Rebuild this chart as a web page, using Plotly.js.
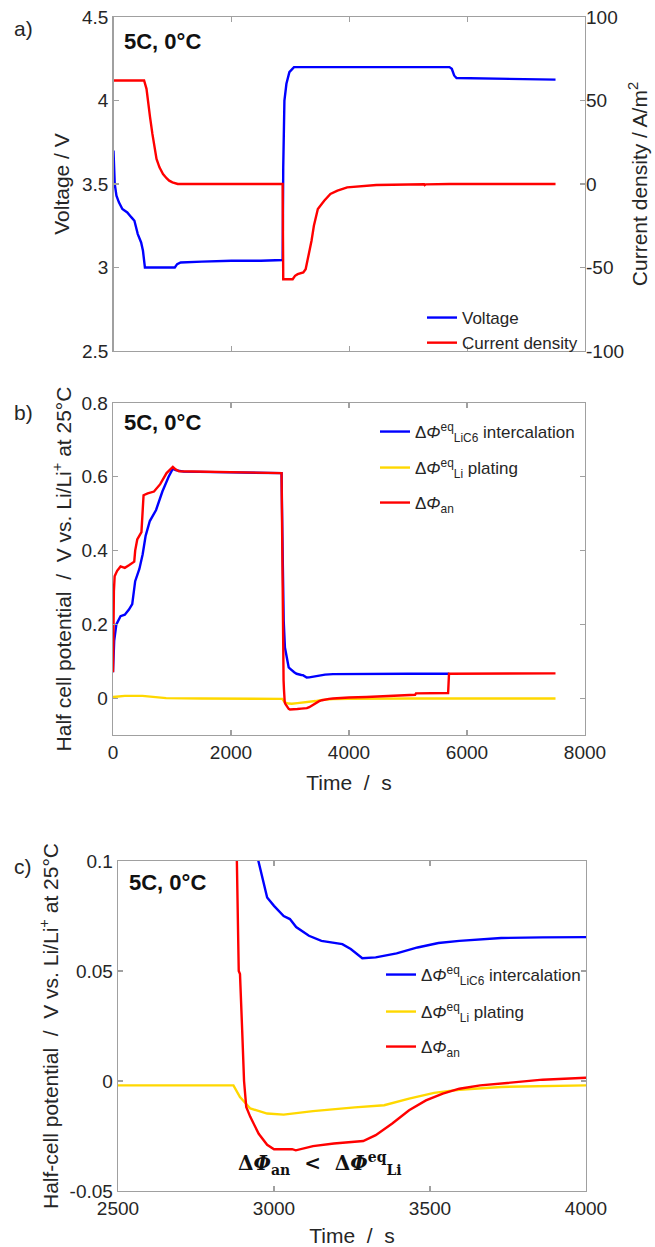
<!DOCTYPE html>
<html>
<head>
<meta charset="utf-8">
<script src="https://cdn.plot.ly/plotly-3.0.1.min.js"></script>
<style>html,body{margin:0;padding:0;background:#fff;}#chart{width:655px;height:1247px;}</style>
</head>
<body>
<div id="chart"></div>
<script>
// ---------- Panel a: voltage and current density vs time ----------
const tVolt = [0, 8, 21, 50, 92, 150, 234, 305, 355, 412, 469, 500, 533, 800, 1040, 1080, 1140, 1500, 2000, 2500, 2870, 2880, 2900, 2934, 2984, 3062, 4000, 5000, 5700, 5740, 5780, 5820, 6500, 7500];
const voltage = [3.7, 3.6, 3.5, 3.43, 3.39, 3.35, 3.33, 3.3, 3.28, 3.2, 3.15, 3.1, 3.0, 3.0, 3.0, 3.02, 3.03, 3.035, 3.04, 3.04, 3.045, 3.6, 4.0, 4.1, 4.17, 4.2, 4.2, 4.2, 4.2, 4.19, 4.15, 4.135, 4.13, 4.125];
const tCur = [0, 519, 560, 590, 620, 660, 700, 730, 780, 840, 900, 945, 1000, 1090, 2000, 2870, 2880, 3040, 3080, 3125, 3220, 3260, 3290, 3330, 3360, 3400, 3467, 3575, 3680, 3800, 3965, 4460, 4820, 5270, 5280, 5300, 5700, 7500];
const currentDensity = [62, 62, 57, 50, 40, 30, 20, 15, 10, 6, 3.5, 2, 1, 0, 0, 0, -57, -57, -55, -54, -53, -51, -46, -40, -34, -25, -15, -10, -6, -4, -2, -0.6, -0.4, -0.2, -0.7, -0.2, 0, 0];

// ---------- Panels b and c: half-cell potentials vs time ----------
const tLiC6 = [0, 20, 57, 128, 200, 270, 326, 376, 447, 503, 553, 624, 730, 837, 943, 1014, 1060, 1200, 2000, 2857, 2870, 2893, 2914, 2950, 2978, 3000, 3031, 3051, 3071, 3112, 3152, 3192, 3219, 3246, 3283, 3326, 3393, 3460, 3527, 3594, 3728, 3861, 4000, 5000, 5700];
const phiLiC6 = [0.07, 0.155, 0.2, 0.222, 0.226, 0.24, 0.255, 0.317, 0.35, 0.39, 0.44, 0.48, 0.51, 0.56, 0.6, 0.622, 0.618, 0.614, 0.612, 0.61, 0.45, 0.21, 0.137, 0.1, 0.0834, 0.0796, 0.075, 0.0736, 0.07, 0.066, 0.0637, 0.0627, 0.0622, 0.06, 0.0558, 0.0562, 0.058, 0.0607, 0.0627, 0.0637, 0.065, 0.0653, 0.0657, 0.066, 0.066];
const tLi = [0, 100, 200, 500, 700, 900, 1500, 2500, 2870, 2891, 2924, 2978, 3031, 3125, 3259, 3353, 3433, 3513, 3594, 3728, 4000, 5000, 7500];
const phiLi = [0.003, 0.005, 0.006, 0.006, 0.003, 0.0, -0.001, -0.002, -0.002, -0.0073, -0.0125, -0.0148, -0.0153, -0.0137, -0.012, -0.011, -0.008, -0.0054, -0.004, -0.0027, -0.002, -0.001, -0.001];
const tAn = [0, 5, 15, 28, 70, 128, 200, 270, 326, 360, 376, 411, 482, 505, 518, 588, 695, 800, 908, 1014, 1060, 1120, 1617, 2857, 2870, 2881, 2887, 2891, 2898, 2904, 2911, 2924, 2951, 2978, 3000, 3058, 3070, 3125, 3192, 3259, 3286, 3326, 3379, 3433, 3487, 3541, 3594, 3661, 3728, 3861, 4000, 4300, 4600, 4650, 5120, 5135, 5680, 5695, 6500, 7500];
const phiAn = [0.07, 0.22, 0.29, 0.33, 0.345, 0.357, 0.353, 0.36, 0.365, 0.37, 0.4, 0.43, 0.45, 0.5, 0.55, 0.555, 0.56, 0.58, 0.61, 0.627, 0.62, 0.615, 0.613, 0.61, 0.4, 0.1, 0.05, 0.0486, 0.023, 0.0, -0.0118, -0.0163, -0.024, -0.029, -0.031, -0.031, -0.0315, -0.0296, -0.0284, -0.0277, -0.0273, -0.0246, -0.0193, -0.0133, -0.0088, -0.0057, -0.0035, -0.002, -0.0012, 0.0006, 0.0015, 0.003, 0.005, 0.007, 0.009, 0.013, 0.014, 0.066, 0.0665, 0.067];

// ---------- tick labels ----------
const timeTicksAB = [0, 2000, 4000, 6000, 8000];
const timeTickTextB = ['0', '2000', '4000', '6000', '8000'];
const voltTicks = [2.5, 3, 3.5, 4, 4.5];
const voltTickText = ['2.5', '3', '3.5', '4', '4.5'];
const curTicks = [-100, -50, 0, 50, 100];
const curTickText = ['-100', '-50', '0', '50', '100'];
const phiTicksB = [0, 0.2, 0.4, 0.6, 0.8];
const phiTickTextB = ['0', '0.2', '0.4', '0.6', '0.8'];
const timeTicksC = [2500, 3000, 3500, 4000];
const timeTickTextC = ['2500', '3000', '3500', '4000'];
const phiTicksC = [-0.05, 0, 0.05, 0.1];
const phiTickTextC = ['-0.05', '0', '0.05', '0.1'];

const BLUE = '#0000ff', RED = '#ff0000', YEL = '#ffd800';
const FONT = 'Liberation Sans, Arial, Helvetica, sans-serif';
const TXT = '#262626', AX = '#a0a0a0';
const W = 655, H = 1247;
const px = v => v / W, py = v => 1 - v / H;
const nb = '\u00a0';

const nameLiC6 = 'Δ<i>Φ</i><sup>eq</sup><sub>LiC6</sub> intercalation';
const nameLi = 'Δ<i>Φ</i><sup>eq</sup><sub>Li</sub> plating';
const nameAn = 'Δ<i>Φ</i><sub>an</sub>';

const lw = 2.4;
const traces = [
  {x: tVolt, y: voltage, xaxis: 'x', yaxis: 'y', mode: 'lines', name: 'Voltage', line: {color: BLUE, width: lw}, legend: 'legend'},
  {x: tCur, y: currentDensity, xaxis: 'x', yaxis: 'y2', mode: 'lines', name: 'Current density', line: {color: RED, width: lw}, legend: 'legend'},
  {x: tLiC6, y: phiLiC6, xaxis: 'x2', yaxis: 'y3', mode: 'lines', name: nameLiC6, line: {color: BLUE, width: lw}, legend: 'legend2'},
  {x: tLi, y: phiLi, xaxis: 'x2', yaxis: 'y3', mode: 'lines', name: nameLi, line: {color: YEL, width: lw}, legend: 'legend3'},
  {x: tAn, y: phiAn, xaxis: 'x2', yaxis: 'y3', mode: 'lines', name: nameAn, line: {color: RED, width: lw}, legend: 'legend4'},
  {x: tLiC6, y: phiLiC6, xaxis: 'x3', yaxis: 'y4', mode: 'lines', name: nameLiC6, line: {color: BLUE, width: lw}, legend: 'legend5'},
  {x: tLi, y: phiLi, xaxis: 'x3', yaxis: 'y4', mode: 'lines', name: nameLi, line: {color: YEL, width: lw}, legend: 'legend6'},
  {x: tAn, y: phiAn, xaxis: 'x3', yaxis: 'y4', mode: 'lines', name: nameAn, line: {color: RED, width: lw}, legend: 'legend7'}
];

const tickFont = {family: FONT, size: 19, color: TXT};
const titleFont = {family: FONT, size: 21, color: TXT};
function ax(extra) {
  return Object.assign({
    showline: true, linecolor: AX, linewidth: 1.3, mirror: 'ticks',
    ticks: 'inside', ticklen: 5, tickwidth: 1.2, tickcolor: AX,
    showgrid: false, zeroline: false, tickfont: tickFont, automargin: false,
    tickmode: 'array', fixedrange: true
  }, extra);
}
function leg(xLeft, yCenter) {
  return {x: px(xLeft), y: py(yCenter), xanchor: 'left', yanchor: 'middle', bgcolor: 'rgba(0,0,0,0)',
    font: {family: FONT, size: 17, color: TXT}, itemwidth: 30, tracegroupgap: 0};
}
function lab(t, x, y, size, extra) {
  return Object.assign({text: t, xref: 'paper', yref: 'paper', x: px(x), y: py(y), xanchor: 'left', yanchor: 'middle',
    showarrow: false, font: {family: FONT, size: size, color: TXT}}, extra || {});
}

const layout = {
  width: W, height: H,
  margin: {l: 0, r: 0, t: 0, b: 0},
  paper_bgcolor: '#fff', plot_bgcolor: '#fff',
  font: {family: FONT, color: TXT},
  showlegend: true,
  xaxis: ax({domain: [px(113.5), px(585)], anchor: 'y', range: [0, 8000], tickvals: timeTicksAB, showticklabels: false}),
  yaxis: ax({domain: [py(351), py(17)], anchor: 'x', range: [2.5, 4.5], tickvals: voltTicks, ticktext: voltTickText,
    title: {text: 'Voltage / V', font: titleFont, standoff: 6}}),
  yaxis2: ax({overlaying: 'y', side: 'right', anchor: 'x', range: [-100, 100], tickvals: curTicks, ticktext: curTickText,
    showline: false, mirror: false,
    title: {text: 'Current density / A/m<sup>2</sup>', font: titleFont, standoff: 9}}),
  xaxis2: ax({domain: [px(113), px(585)], anchor: 'y3', range: [0, 8000], tickvals: timeTicksAB, ticktext: timeTickTextB,
    title: {text: 'Time' + nb + nb + '/' + nb + nb + 's', font: titleFont, standoff: 13}}),
  yaxis3: ax({domain: [py(735), py(403)], anchor: 'x2', range: [-0.1, 0.8], tickvals: phiTicksB, ticktext: phiTickTextB,
    title: {text: 'Half cell potential' + nb + nb + '/' + nb + nb + 'V vs. Li/Li<sup>+</sup> at 25°C', font: titleFont, standoff: 4}}),
  xaxis3: ax({domain: [px(118), px(586)], anchor: 'y4', range: [2500, 4000], tickvals: timeTicksC, ticktext: timeTickTextC,
    title: {text: 'Time' + nb + nb + '/' + nb + nb + 's', font: titleFont, standoff: 13}}),
  yaxis4: ax({domain: [py(1191), py(861)], anchor: 'x3', range: [-0.05, 0.1], tickvals: phiTicksC, ticktext: phiTickTextC,
    title: {text: 'Half-cell potential' + nb + nb + '/' + nb + nb + 'V vs. Li/Li<sup>+</sup> at 25°C', font: titleFont, standoff: 5}}),
  legend: {x: px(422), y: py(300), xanchor: 'left', yanchor: 'top', bgcolor: 'rgba(0,0,0,0)',
    font: {family: FONT, size: 17, color: TXT}, itemwidth: 30, tracegroupgap: 0},
  legend2: leg(375, 432),
  legend3: leg(375, 468),
  legend4: leg(375, 503),
  legend5: leg(381, 975),
  legend6: leg(381, 1012),
  legend7: leg(381, 1047),
  annotations: [
    lab('a)', 12, 28, 21),
    lab('b)', 12, 412, 21),
    lab('c)', 12, 866, 21),
    lab('<b>5C, 0°C</b>', 122, 42, 22, {font: {family: FONT, size: 22, color: '#111'}}),
    lab('<b>5C, 0°C</b>', 122, 422, 22, {font: {family: FONT, size: 22, color: '#111'}}),
    lab('<b>5C, 0°C</b>', 127, 882, 22, {font: {family: FONT, size: 22, color: '#111'}}),
    lab('<b>Δ<i>Φ</i><sub>an</sub>' + nb + nb + '<' + nb + nb + 'Δ<i>Φ</i><sup>eq</sup><sub>Li</sub></b>', 320, 1163, 20,
      {xanchor: 'center', font: {family: 'DejaVu Serif, Liberation Serif, serif', size: 20, color: '#111'}})
  ]
};

Plotly.newPlot('chart', traces, layout, {staticPlot: true, displayModeBar: false});
</script>
</body>
</html>
